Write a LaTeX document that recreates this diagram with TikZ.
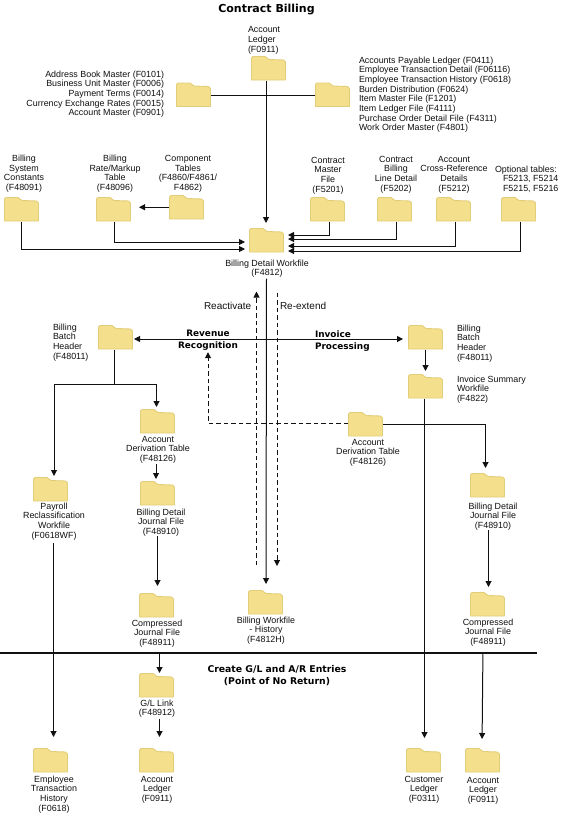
\documentclass[tikz,border=0pt]{standalone}
\usepackage{fontspec}
\setmainfont{Liberation Sans}
\newfontfamily\headfont{DejaVu Sans}
\usetikzlibrary{arrows.meta}
\definecolor{foldfill}{HTML}{F4E08C}
\definecolor{foldedge}{HTML}{E2CE78}
\definecolor{inkc}{HTML}{111111}
\tikzset{
  folderbox/.style={minimum width=35pt,minimum height=24.5pt,inner sep=0pt,outer sep=0pt},
  folderskin/.style={fill=foldfill,draw=foldedge,line width=0.9pt,line join=round},
  lbltext/.style={inner sep=0pt,outer sep=0pt,text=inkc,font=\fontsize{8.9}{9.7}\selectfont},
  headtext/.style={inner sep=0pt,outer sep=0pt,text=black,align=left,font=\headfont\bfseries\fontsize{8.9}{11.8}\selectfont},
  link/.style={line width=1pt,draw=inkc},
  arr/.style={link,-{Triangle[length=6pt,width=6pt]}},
  darr/.style={link,{Triangle[length=6pt,width=6pt]}-{Triangle[length=6pt,width=6pt]}},
  dasharr/.style={arr,dash pattern=on 4.5pt off 3pt},
}
\newcommand{\folder}[3]{%
  \path[folderskin] (#2+0.5,#3+24) -- (#2+0.5,#3+2) -- (#2+2,#3+0.5) -- (#2+14,#3+0.5) -- (#2+18,#3+3.5)
    -- (#2+32.5,#3+4) -- (#2+34.5,#3+6) -- (#2+34.5,#3+24) -- cycle;
  \node[folderbox] (#1) at (#2+17.5,#3+12.25) {};}
% name, anchor, align, x, y of first line centre, text
\newcommand{\txt}[6]{\node[lbltext,anchor=#2,align=#3] (#1) at ({#4},{#5-3.5}) {\rule{0pt}{6.5pt}#6};}
\begin{document}
\begin{tikzpicture}[x=1pt,y=-1pt]
\useasboundingbox (0,0) rectangle (561,816);
\fill[white] (0,0) rectangle (561,816);

% title
\node[inner sep=0pt,text=black,font=\headfont\bfseries\fontsize{11}{13}\selectfont] (title) at (266.5,10) {Contract Billing};

% folders
\folder{acct}{251}{56}
\folder{mleft}{176}{82.5}
\folder{mright}{315}{82.5}
\folder{sys}{4}{197}
\folder{rate}{96}{197}
\folder{comp}{169}{195}
\folder{detail}{249}{228}
\folder{master}{310}{197}
\folder{line}{377}{197}
\folder{xref}{436}{197}
\folder{opt}{501}{197}
\folder{batchL}{98}{325}
\folder{batchR}{408}{325}
\folder{inv}{408}{374}
\folder{derivR}{348}{412}
\folder{derivL}{140}{409}
\folder{jl}{140}{481}
\folder{payroll}{33}{477}
\folder{jr}{470}{473}
\folder{cl}{139}{593}
\folder{hist}{248}{590}
\folder{cr}{470}{592}
\folder{gl}{139}{673}
\folder{emp}{33}{748}
\folder{ledL}{139}{748}
\folder{cust}{406}{748}
\folder{ledR}{465}{748}

% labels
\txt{tacct}{north west}{left}{248}{30}{Account\\Ledger\\(F0911)}
\txt{tmleft}{north east}{right}{164}{74}{Address Book Master (F0101)\\Business Unit Master (F0006)\\Payment Terms (F0014)\\Currency Exchange Rates (F0015)\\Account Master (F0901)}
\txt{tmright}{north west}{left}{359}{60}{Accounts Payable Ledger (F0411)\\Employee Transaction Detail (F06116)\\Employee Transaction History (F0618)\\Burden Distribution (F0624)\\Item Master File (F1201)\\Item Ledger File (F4111)\\Purchase Order Detail File (F4311)\\Work Order Master (F4801)}
\txt{tsys}{north}{center}{24}{158.5}{Billing\\System\\Constants\\(F48091)}
\txt{trate}{north}{center}{115}{158.5}{Billing\\Rate/Markup\\Table\\(F48096)}
\txt{tcomp}{north}{center}{188}{158.5}{Component\\Tables\\(F4860/F4861/\\F4862)}
\txt{tmaster}{north}{center}{328}{160}{Contract\\Master\\File\\(F5201)}
\txt{tline}{north}{center}{396}{159}{Contract\\Billing\\Line Detail\\(F5202)}
\txt{txref}{north}{center}{454}{159}{Account\\Cross-Reference\\Details\\(F5212)}
\txt{topt}{north west}{left}{495}{169}{Optional tables:\\\hspace*{8pt}F5213, F5214\\\hspace*{8pt}F5215, F5216}
\txt{tdetail}{north}{center}{267}{263}{Billing Detail Workfile\\(F4812)}
\txt{treact}{north west}{left}{204}{306}{\fontsize{10}{11}\selectfont Reactivate}
\txt{treext}{north west}{left}{280}{306}{\fontsize{10}{11}\selectfont Re-extend}
\node[headtext,align=center,anchor=north] (rev) at (208,330.5) {Revenue\\Recognition};
\node[headtext,anchor=north west] (invp) at (315,330.5) {Invoice\\Processing};
\txt{tbatchL}{north west}{left}{53}{327}{Billing\\Batch\\Header\\(F48011)}
\txt{tbatchR}{north west}{left}{457}{328}{Billing\\Batch\\Header\\(F48011)}
\txt{tinv}{north west}{left}{457}{379}{Invoice Summary\\Workfile\\(F4822)}
\txt{tderivR}{north}{center}{368}{442}{Account\\Derivation Table\\(F48126)}
\txt{tderivL}{north}{center}{158}{439}{Account\\Derivation Table\\(F48126)}
\txt{tjl}{north}{center}{161}{512}{Billing Detail\\Journal File\\(F48910)}
\txt{tpayroll}{north}{center}{54}{506}{Payroll\\Reclassification\\Workfile\\(F0618WF)}
\txt{tjr}{north}{center}{493}{506}{Billing Detail\\Journal File\\(F48910)}
\txt{tcl}{north}{center}{157}{623}{Compressed\\Journal File\\(F48911)}
\txt{thist}{north}{center}{266}{620}{Billing Workfile\\- History\\(F4812H)}
\txt{tcr}{north}{center}{488}{622}{Compressed\\Journal File\\(F48911)}
\node[headtext,align=center,anchor=north,font=\headfont\bfseries\fontsize{9.3}{11.8}\selectfont] (create) at (277,665.5) {Create G/L and A/R Entries\\(Point of No Return)};
\txt{tgl}{north}{center}{157}{703}{G/L Link\\(F48912)}
\txt{temp}{north}{center}{54}{779}{Employee\\Transaction\\History\\(F0618)}
\txt{tledL}{north}{center}{157}{779}{Account\\Ledger\\(F0911)}
\txt{tcust}{north}{center}{424}{779}{Customer\\Ledger\\(F0311)}
\txt{tledR}{north}{center}{483}{780}{Account\\Ledger\\(F0911)}

% free ends
\coordinate (branch) at (114.5,384);
\coordinate (divL) at (0,653);
\coordinate (divR) at (537,653);

% connectors: top
\draw[arr,shorten >=5pt] ([xshift=-2.5pt]acct.south) -- ([xshift=-2.5pt]detail.north -| acct.south);
\draw[link] ([yshift=-1pt]mleft.east) -- ([yshift=-1pt]mright.west);
\draw[arr,shorten >=8pt] (comp.west) -- (rate.east |- comp.west);
\draw[arr,shorten >=4pt] (sys.south) |- ([yshift=-8.75pt]detail.west);
\draw[arr,shorten >=4pt] ([xshift=1pt]rate.south) |- ([yshift=-1.75pt]detail.west);
\draw[arr,shorten >=4pt] ([xshift=1.5pt]master.south) |- ([yshift=5.25pt]detail.east);
\draw[arr,shorten >=4pt] ([xshift=1.5pt]line.south) |- ([yshift=1.25pt]detail.east);
\draw[arr,shorten >=4pt] ([xshift=1.5pt]xref.south) |- ([yshift=-5.75pt]detail.east);
\draw[arr,shorten >=4pt] ([xshift=2.2pt]opt.south) |- ([yshift=-10.75pt]detail.east);

% middle
\draw[arr,shorten >=6pt,shorten <=1pt] ([xshift=-0.5pt]tdetail.south) -- ([xshift=0.5pt]hist.north);
\draw[dasharr,shorten >=14pt,shorten <=25pt] ([xshift=-9pt]hist.north) -- ([xshift=-10.5pt]tdetail.south);
\draw[dasharr,shorten >=24pt,shorten <=15pt] ([xshift=10pt]tdetail.south) -- ([xshift=11.5pt]hist.north);
\draw[darr,shorten <=1pt,shorten >=5pt] ([yshift=-1.75pt]batchL.east) -- ([yshift=-1.75pt]batchR.west);

% left branch
\draw[link] ([xshift=-1pt]batchL.south) -- (branch);
\draw[arr,shorten >=1pt] (branch) -| ([xshift=3.5pt]payroll.north);
\draw[arr,shorten >=2pt] (branch) -| ([xshift=-1pt]derivL.north);
\draw[arr,shorten <=3pt,shorten >=11pt] ([xshift=-0.5pt]tpayroll.south) -- ([xshift=3pt]emp.north);
\draw[arr,shorten >=2pt,shorten <=1pt] ([xshift=-2pt]tderivL.south) -- ([xshift=-1.5pt]jl.north);
\draw[arr,shorten >=7pt] ([xshift=-3.5pt]tjl.south) -- ([xshift=1pt]cl.north);
\draw[arr,shorten <=6pt] ([xshift=2.5pt]tcl.south) -- ([xshift=3pt]gl.north);
\draw[arr,shorten <=1pt,shorten >=11pt] ([xshift=2.5pt]tgl.south) -- ([xshift=3pt]ledL.north);

% right branch
\draw[arr,shorten >=3pt] (batchR.south) -- (inv.north);
\draw[arr,shorten >=10pt] ([xshift=-1pt]inv.south) -- ([xshift=1pt]cust.north);
\draw[arr,shorten >=5pt] (derivR.east) -| ([xshift=-2pt]jr.north);
\draw[dasharr,shorten >=1.5pt] ([yshift=1pt]derivR.west) -| (rev.south);
\draw[arr,shorten >=5pt] ([xshift=-4.5pt]tjr.south) -- ([xshift=1pt]cr.north);
\draw[arr,shorten <=8pt,shorten >=9pt] ([xshift=-5pt]tcr.south) -- ([xshift=-0.5pt]ledR.north);

% divider
\draw[draw=inkc,line width=1.5pt] (divL) -- (divR);
\end{tikzpicture}
\end{document}
